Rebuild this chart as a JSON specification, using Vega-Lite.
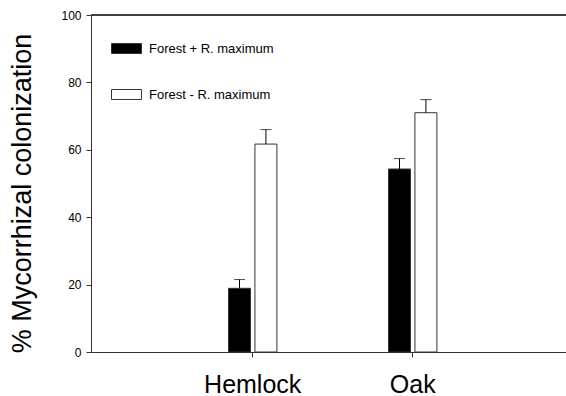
{
  "$schema": "https://vega.github.io/schema/vega-lite/v6.json",
  "autosize": {"type": "none"},
  "padding": {"left": 91, "top": 15, "right": 0, "bottom": 44},
  "width": 490,
  "height": 337,
  "config": {
    "font": "Liberation Sans",
    "view": {"stroke": null},
    "axis": {"grid": false, "domainColor": "#333", "tickColor": "#333", "labelColor": "#000", "titleColor": "#000", "labelFont": "Liberation Sans", "titleFont": "Liberation Sans", "titleFontWeight": "normal"}
  },
  "data": {
    "values": [
      {"site": "Hemlock", "treatment": "Forest + R. maximum", "mean": 18.9, "upper": 21.5},
      {"site": "Hemlock", "treatment": "Forest - R. maximum", "mean": 61.7, "upper": 66.0},
      {"site": "Oak", "treatment": "Forest + R. maximum", "mean": 54.3, "upper": 57.4},
      {"site": "Oak", "treatment": "Forest - R. maximum", "mean": 71.0, "upper": 74.9}
    ]
  },
  "layer": [
    {
      "mark": {"type": "rule", "color": "#333", "strokeWidth": 1},
      "encoding": {
        "y": {"datum": 100, "type": "quantitative", "scale": {"domain": [0, 100]}}
      }
    },
    {
      "mark": {"type": "bar", "stroke": "#333", "strokeWidth": 1},
      "encoding": {
        "x": {
          "field": "site", "type": "nominal",
          "scale": {"domain": ["Hemlock", "Oak"], "paddingInner": 0.6975, "paddingOuter": 0.88, "align": 0.4883},
          "axis": {"title": null, "labelAngle": 0, "labelFontSize": 25, "labelPadding": 15, "tickSize": 5}
        },
        "xOffset": {
          "field": "treatment", "type": "nominal",
          "scale": {"domain": ["Forest + R. maximum", "Forest - R. maximum"], "paddingInner": 0.167, "paddingOuter": 0}
        },
        "y": {
          "field": "mean", "type": "quantitative",
          "scale": {"domain": [0, 100]},
          "axis": {"values": [0, 20, 40, 60, 80, 100], "title": "% Mycorrhizal colonization", "titleFontSize": 27, "titleX": -69, "titleY": 178, "titleAngle": -90, "titleAlign": "center", "titleBaseline": "middle", "labelFontSize": 12, "labelPadding": 5, "tickSize": 5}
        },
        "fill": {
          "field": "treatment", "type": "nominal",
          "scale": {"domain": ["Forest + R. maximum", "Forest - R. maximum"], "range": ["#000000", "#ffffff"]},
          "legend": {"orient": "none", "legendX": 20, "legendY": 18, "title": null, "symbolType": "M-1,-0.333H1V0.333H-1Z", "symbolSize": 900, "symbolStrokeColor": "#333", "symbolStrokeWidth": 1, "labelFontSize": 13, "labelOffset": 7, "rowPadding": 23, "padding": 0, "labelColor": "#000", "labelFont": "Liberation Sans"}
        }
      }
    },
    {
      "mark": {"type": "rule", "color": "#000", "strokeWidth": 1},
      "encoding": {
        "x": {"field": "site", "type": "nominal"},
        "xOffset": {"field": "treatment", "type": "nominal"},
        "y": {"field": "mean", "type": "quantitative"},
        "y2": {"field": "upper"}
      }
    },
    {
      "mark": {"type": "tick", "color": "#000", "size": 11, "thickness": 1, "orient": "horizontal"},
      "encoding": {
        "x": {"field": "site", "type": "nominal"},
        "xOffset": {"field": "treatment", "type": "nominal"},
        "y": {"field": "upper", "type": "quantitative"}
      }
    }
  ]
}
